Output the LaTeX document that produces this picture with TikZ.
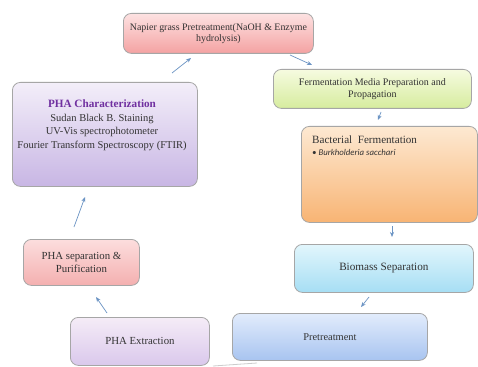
\documentclass[tikz,border=0pt]{standalone}
\usepackage{fontspec}
\setmainfont{Liberation Serif}
\newfontfamily\bulletfont{Carlito}
\usetikzlibrary{arrows.meta}
\definecolor{arrowblue}{HTML}{6C94C4}
\definecolor{txt}{HTML}{333333}
\definecolor{phapurple}{HTML}{7030A0}
\definecolor{napT}{HTML}{FDE2E2}\definecolor{napB}{HTML}{F4A2A2}
\definecolor{medT}{HTML}{F6FBE0}\definecolor{medB}{HTML}{D6EC9E}
\definecolor{bacT}{HTML}{FDE9D2}\definecolor{bacB}{HTML}{F8B474}
\definecolor{bioT}{HTML}{E2F6FC}\definecolor{bioB}{HTML}{A6DEF4}
\definecolor{preT}{HTML}{E2ECFC}\definecolor{preB}{HTML}{A8C4F0}
\definecolor{extT}{HTML}{F5ECF7}\definecolor{extB}{HTML}{DAC8EC}
\definecolor{sepT}{HTML}{FCDEDE}\definecolor{sepB}{HTML}{F4B0B0}
\definecolor{chaT}{HTML}{F3EEF9}\definecolor{chaB}{HTML}{C8B6E4}
\tikzset{
  box/.style={draw=gray!70, line width=0.8pt, rounded corners=8pt, inner sep=0pt, anchor=north west, text=txt, align=center},
  lbl/.style={text=txt, align=center, inner sep=0pt},
  flow/.style={draw=arrowblue, line width=0.7pt, -{Stealth[length=5pt,width=4pt]}},
  faint/.style={draw=gray!40, line width=0.8pt}
}
\begin{document}
\begin{tikzpicture}[x=1pt,y=-1pt]
\useasboundingbox (0,0) rectangle (478,366);
\fill[white] (0,0) rectangle (478,366);
% boxes
\node[box, minimum width=190pt, minimum height=40pt, top color=napT, bottom color=napB,
  font=\fontsize{9.9}{11.5}\selectfont] (napier) at (123,13)
  {Napier grass Pretreatment(NaOH \& Enzyme\\ hydrolysis)};
\node[box, minimum width=198pt, minimum height=39pt, top color=medT, bottom color=medB,
  font=\fontsize{10}{11.5}\selectfont] (media) at (273,69)
  {Fermentation Media Preparation and\\ Propagation};
\node[box, minimum width=176pt, minimum height=96pt, top color=bacT, bottom color=bacB] (bact) at (301,126) {};
\node[lbl, anchor=north west, font=\fontsize{11.1}{13}\selectfont] (bacttitle) at (312,136) {Bacterial\ \ Fermentation};
\node[lbl, anchor=north west, font=\bulletfont\itshape\fontsize{8.8}{10}\selectfont] (bactsub) at (312,149) {\textbullet\ Burkholderia sacchari};
\node[box, minimum width=179pt, minimum height=48pt, top color=bioT, bottom color=bioB,
  font=\fontsize{11.2}{13}\selectfont] (biomass) at (294,244)
  {Biomass Separation};
\node[box, minimum width=195pt, minimum height=47pt, top color=preT, bottom color=preB,
  font=\fontsize{10.4}{12}\selectfont] (pretreat) at (232,313)
  {Pretreatment};
\node[box, minimum width=139pt, minimum height=48pt, top color=extT, bottom color=extB,
  font=\fontsize{10.8}{12}\selectfont] (extract) at (70,317)
  {PHA Extraction};
\node[box, minimum width=116pt, minimum height=46pt, top color=sepT, bottom color=sepB,
  font=\fontsize{10.8}{13}\selectfont] (separ) at (23,239)
  {PHA separation \&\\ Purification};
\node[box, minimum width=185pt, minimum height=104pt, top color=chaT, bottom color=chaB] (charac) at (12,82) {};
\node[lbl, font=\fontsize{10.5}{13.5}\selectfont] (chartext) at (102,125)
  {\fontsize{11.2}{13.5}\selectfont\bfseries\color{phapurple}PHA Characterization\\
   \fontsize{10.5}{13.5}\selectfont\mdseries\color{txt}Sudan Black B. Staining\\
   UV-Vis spectrophotometer\\
   Fourier Transform Spectroscopy (FTIR)};
% connector endpoints
\coordinate (a1s) at (172,73); \coordinate (a1e) at (191,58);
\coordinate (a2s) at (290,55); \coordinate (a2e) at (312,65);
\coordinate (a3s) at (381,112); \coordinate (a3e) at (378,120);
\coordinate (a4s) at (392,226); \coordinate (a4e) at (392,237);
\coordinate (a5s) at (369,297); \coordinate (a5e) at (361,307);
\coordinate (a6s) at (257,363); \coordinate (a6e) at (213,366);
\coordinate (a7s) at (107,313); \coordinate (a7e) at (96,297);
\coordinate (a8s) at (74,227); \coordinate (a8e) at (85,197);
\draw[flow] (a1s) -- (a1e);
\draw[flow] (a2s) -- (a2e);
\draw[flow] (a3s) -- (a3e);
\draw[flow] (a4s) -- (a4e);
\draw[flow] (a5s) -- (a5e);
\draw[faint] (a6s) -- (a6e);
\draw[flow] (a7s) -- (a7e);
\draw[flow] (a8s) -- (a8e);
\end{tikzpicture}
\end{document}
